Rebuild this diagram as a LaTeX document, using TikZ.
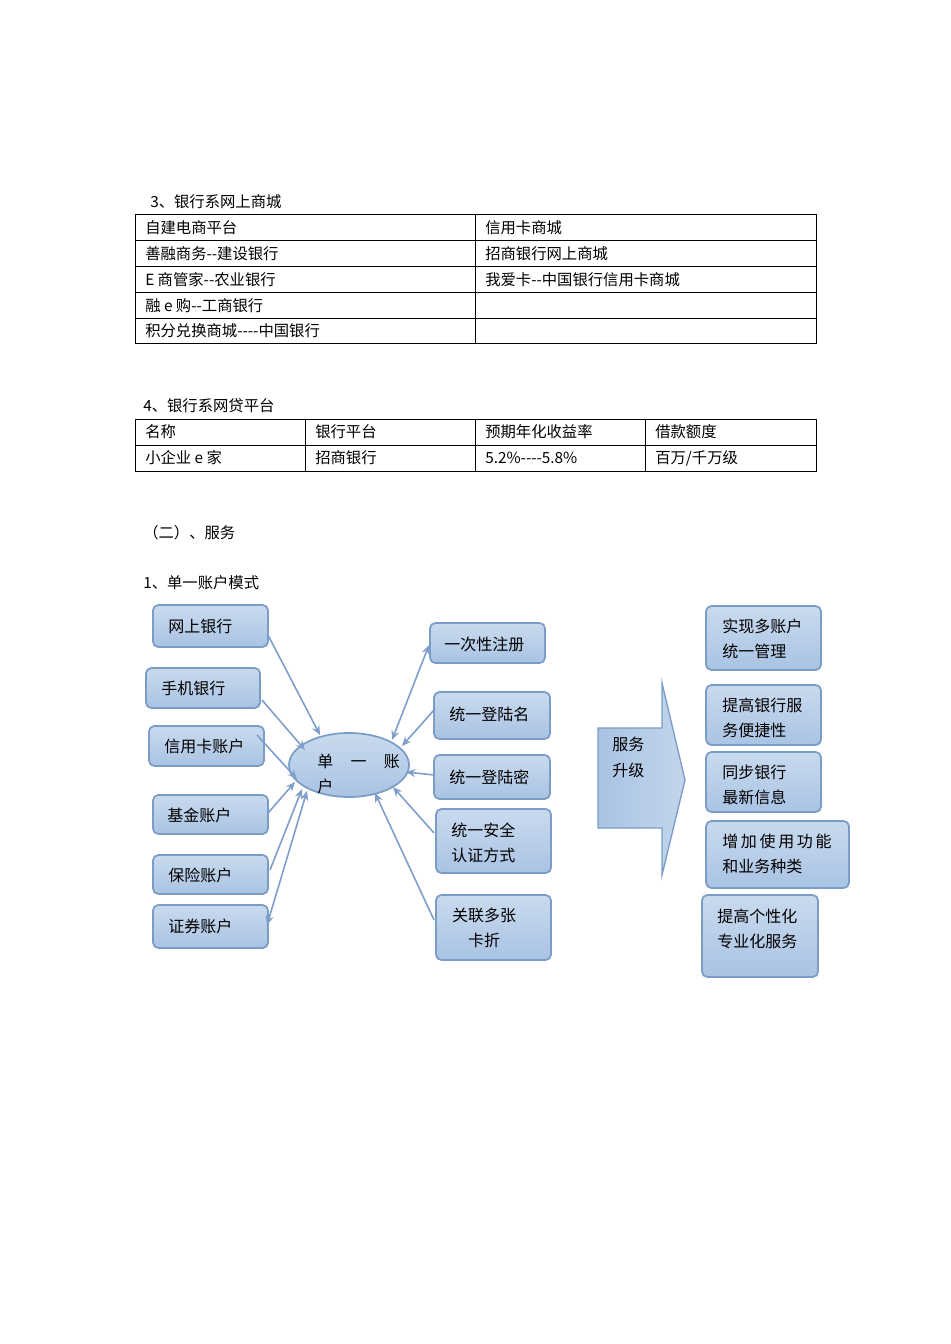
\documentclass[tikz,border=0pt]{standalone}
\usepackage{fontspec}
\setmainfont{Liberation Serif}
\newfontfamily\cjk{Noto Sans CJK SC}
\usetikzlibrary{arrows.meta}
\definecolor{bfill}{HTML}{A9C3E3}
\definecolor{bfillT}{HTML}{C9DAEE}
\definecolor{bline}{HTML}{7B9CC6}
\definecolor{aline}{HTML}{7F9FCA}
\tikzset{
  txt/.style={font=\cjk\fontsize{11.5pt}{14pt}\selectfont, inner sep=0pt, anchor=west},
  boxtxt/.style={font=\cjk\fontsize{12pt}{19pt}\selectfont, align=left, inner sep=0pt},
  bx/.style={draw=bline, line width=1.3pt, rounded corners=4pt, top color=bfillT, bottom color=bfill},
  con/.style={draw=aline, line width=1.2pt, -{Stealth[length=7pt,width=6pt]}},
  grid/.style={draw=black, line width=0.6pt}
}
\begin{document}
\begin{tikzpicture}[x=0.75pt,y=-0.75pt]
\useasboundingbox (0,0) rectangle (950,1344);
% table 1
\node[txt] (t3) at (150,202) {3、银行系网上商城};
\draw[grid] (135,214) rectangle (816,343);
\foreach \y in {240,266,292,318} \draw[grid] (135,\y) -- (816,\y);
\draw[grid] (475,214) -- (475,343);
\node[txt] (a1) at (145,228) {自建电商平台};
\node[txt] (a2) at (145,254) {善融商务--建设银行};
\node[txt] (a3) at (145,280) {E 商管家--农业银行};
\node[txt] (a4) at (145,306) {融 e 购--工商银行};
\node[txt] (a5) at (145,331) {积分兑换商城----中国银行};
\node[txt] (b1) at (485,228) {信用卡商城};
\node[txt] (b2) at (485,254) {招商银行网上商城};
\node[txt] (b3) at (485,280) {我爱卡--中国银行信用卡商城};
% table 2
\node[txt] (t4) at (143,406) {4、银行系网贷平台};
\draw[grid] (135,419) rectangle (816,471);
\draw[grid] (135,445) -- (816,445);
\foreach \x in {305,475,645} \draw[grid] (\x,419) -- (\x,471);
\node[txt] (c1) at (145,432) {名称};
\node[txt] (c2) at (315,432) {银行平台};
\node[txt] (c3) at (485,432) {预期年化收益率};
\node[txt] (c4) at (655,432) {借款额度};
\node[txt] (d1) at (145,458) {小企业 e 家};
\node[txt] (d2) at (315,458) {招商银行};
\node[txt] (d3) at (485,458) {5.2\%----5.8\%};
\node[txt] (d4) at (655,458) {百万/千万级};
\node[txt] (s2) at (143,533) {（二）、服务};
\node[txt] (s1) at (143,583) {1、单一账户模式};
% left boxes
\path[bx] (153,605) rectangle (268,647); \node[boxtxt,anchor=west] (L1) at (168,626) {网上银行};
\path[bx] (146,668) rectangle (260,708); \node[boxtxt,anchor=west] (L2) at (161,688) {手机银行};
\path[bx] (149,726) rectangle (264,766); \node[boxtxt,anchor=west] (L3) at (164,746) {信用卡账户};
\path[bx] (153,795) rectangle (268,834); \node[boxtxt,anchor=west] (L4) at (167,815) {基金账户};
\path[bx] (153,855) rectangle (268,894); \node[boxtxt,anchor=west] (L5) at (168,875) {保险账户};
\path[bx] (153,905) rectangle (268,948); \node[boxtxt,anchor=west] (L6) at (168,926) {证券账户};
% ellipse
\path[bx] (349,765) ellipse [x radius=60, y radius=32];
\node[font=\cjk\fontsize{12pt}{14pt}\selectfont,inner sep=0pt,anchor=west] (E1) at (317,761) {单\hspace{13pt}一\hspace{13pt}账};
\node[font=\cjk\fontsize{12pt}{14pt}\selectfont,inner sep=0pt,anchor=west] (E2) at (317,786) {户};
% middle boxes
\path[bx] (430,623) rectangle (545,663); \node[boxtxt,anchor=west] (R1) at (444,644) {一次性注册};
\path[bx] (434,692) rectangle (550,739); \node[boxtxt,anchor=west] (R2) at (449,714) {统一登陆名};
\path[bx] (434,755) rectangle (550,799); \node[boxtxt,anchor=west] (R3) at (449,777) {统一登陆密};
\path[bx] (436,809) rectangle (551,873); \node[boxtxt,anchor=west] (R4) at (451,843) {统一安全\\认证方式};
\path[bx] (436,895) rectangle (551,960); \node[boxtxt,align=center] (R5) at (484,928) {关联多张\\卡折};
% connectors
\coordinate (p1) at (268,635); \coordinate (q1) at (320,735);
\coordinate (p2) at (262,700); \coordinate (q2) at (305,750);
\coordinate (p3) at (257,735); \coordinate (q3) at (297,779);
\coordinate (p4) at (268,813); \coordinate (q4) at (295,782);
\coordinate (p5) at (270,870); \coordinate (q5) at (302,789);
\coordinate (p6) at (267,925); \coordinate (q6) at (307,791);
\draw[con] (p1) -- (q1);
\draw[con] (p2) -- (q2);
\draw[con] (p3) -- (q3);
\draw[con] (p4) -- (q4);
\draw[con] (p5) -- (q5);
\draw[con,{Stealth[length=7pt,width=6pt]}-{Stealth[length=7pt,width=6pt]}] (p6) -- (q6);
\coordinate (m1) at (429,645); \coordinate (n1) at (392,740);
\coordinate (m2) at (434,710); \coordinate (n2) at (402,746);
\coordinate (m3) at (434,775); \coordinate (n3) at (406,772);
\coordinate (m4) at (434,833); \coordinate (n4) at (393,787);
\coordinate (m5) at (434,920); \coordinate (n5) at (375,793);
\draw[con,{Stealth[length=7pt,width=6pt]}-{Stealth[length=7pt,width=6pt]}] (n1) -- (m1);
\draw[con] (m2) -- (n2);
\draw[con] (m3) -- (n3);
\draw[con] (m4) -- (n4);
\draw[con] (m5) -- (n5);
% big arrow
\path[draw=bline, line width=1pt, left color=bfill, right color=bfillT!80!bfill]
  (598,728) -- (662,728) -- (662,683) -- (685,780) -- (662,875) -- (662,828) -- (598,828) -- cycle;
\node[boxtxt,anchor=north west] (S) at (612,737) {服务\\升级};
% right boxes
\path[bx] (706,606) rectangle (821,670); \node[boxtxt,anchor=west] (G1) at (722,639) {实现多账户\\统一管理};
\path[bx] (706,685) rectangle (821,745); \node[boxtxt,anchor=west] (G2) at (722,718) {提高银行服\\务便捷性};
\path[bx] (706,752) rectangle (821,812); \node[boxtxt,anchor=west] (G3) at (722,785) {同步银行\\最新信息};
\path[bx] (706,821) rectangle (849,888); \node[boxtxt,anchor=west] (G4) at (722,854) {增\,加\,使\,用\,功\,能\\和业务种类};
\path[bx] (702,895) rectangle (818,977); \node[boxtxt,anchor=west] (G5) at (717,929) {提高个性化\\专业化服务};
\end{tikzpicture}
\end{document}
